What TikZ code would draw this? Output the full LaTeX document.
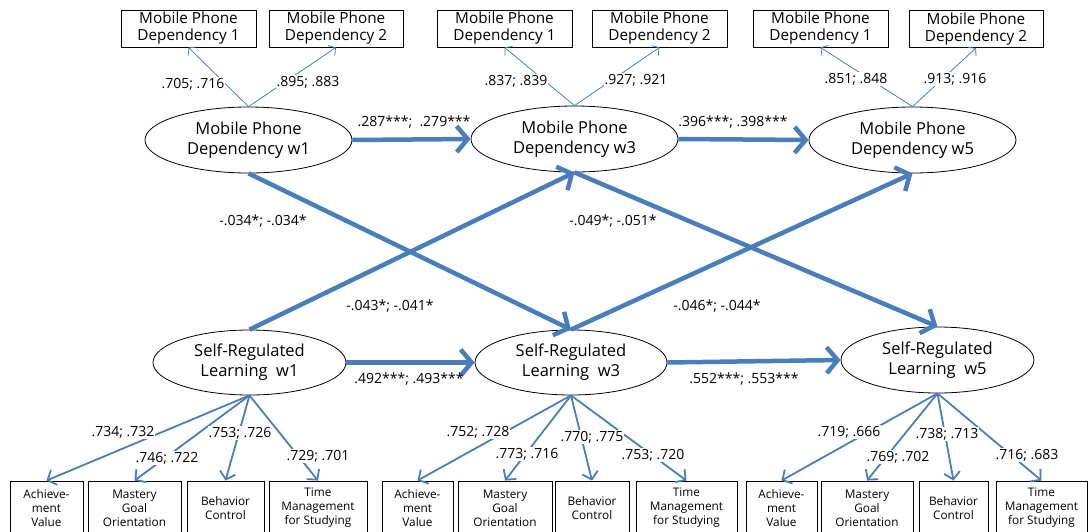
\documentclass[tikz,border=0pt]{standalone}
\usepackage{fontspec}
\setmainfont{Open Sans}
\usetikzlibrary{shapes.geometric,arrows.meta}
\definecolor{arr}{HTML}{4A7EBB}
\begin{document}
\begin{tikzpicture}[x=1pt,y=-1pt,
 lat/.style={draw,ellipse,line width=0.8pt,inner sep=0pt,align=center,font=\fontsize{16.5}{20}\selectfont},
 ind/.style={draw,rectangle,line width=0.9pt,inner sep=0pt,align=center,font=\fontsize{15.3}{17}\selectfont,minimum height=37pt},
 obs/.style={draw,rectangle,line width=0.9pt,inner sep=0pt,align=center,font=\fontsize{11.8}{14}\selectfont,minimum height=54pt},
 tarrow/.style={draw=arr,line width=4.5pt,-{Straight Barb[length=11pt,width=26pt]}},
 load/.style={draw=arr,line width=0.8pt,-{Straight Barb[length=5pt,width=12pt]}},
 oarrow/.style={draw=arr,line width=1.8pt,-{Straight Barb[length=7pt,width=16pt]}},
 coef/.style={font=\fontsize{14}{16}\selectfont,inner sep=1pt},
 wcoef/.style={coef,fill=white}
]
\useasboundingbox (0,0) rectangle (1088,531);
\clip (0,0) rectangle (1088,531);

% latent variables
\node[lat,minimum width=207pt,minimum height=66pt] (m1) at (248.5,140) {Mobile Phone\\Dependency w1};
\node[lat,minimum width=207pt,minimum height=66pt] (m3) at (574.5,139) {Mobile Phone\\Dependency w3};
\node[lat,minimum width=207pt,minimum height=66pt] (m5) at (912.5,140) {Mobile Phone\\Dependency w5};
\node[lat,minimum width=193pt,minimum height=65pt] (s1) at (249.5,362.5) {Self-Regulated\\Learning\ \ w1};
\node[lat,minimum width=192pt,minimum height=65pt] (s3) at (571,362.5) {Self-Regulated\\Learning\ \ w3};
\node[lat,minimum width=193pt,minimum height=66pt] (s5) at (937.5,360) {Self-Regulated\\Learning\ \ w5};

% top indicators
\node[ind,minimum width=135pt] (a1) at (188.5,28.5) {Mobile Phone\\Dependency 1};
\node[ind,minimum width=134pt] (b1) at (336,28.5) {Mobile Phone\\Dependency 2};
\node[ind,minimum width=135pt] (a3) at (504.5,28.5) {Mobile Phone\\Dependency 1};
\node[ind,minimum width=135pt] (b3) at (659.5,28.5) {Mobile Phone\\Dependency 2};
\node[ind,minimum width=135pt] (a5) at (820.5,28.5) {Mobile Phone\\Dependency 1};
\node[ind,minimum width=134pt] (b5) at (976,29) {Mobile Phone\\Dependency 2};

% bottom indicators
\node[obs,minimum width=73pt] (p1) at (46.5,508) {Achieve-\\ment\\Value};
\node[obs,minimum width=93pt] (q1) at (134.5,508) {Mastery\\Goal\\Orientation};
\node[obs,minimum width=77pt] (r1) at (225.5,508) {Behavior\\Control};
\node[obs,minimum width=98pt] (t1) at (318,508) {Time\\Management\\for Studying};
\node[obs,minimum width=71pt] (p3) at (417.5,508) {Achieve-\\ment\\Value};
\node[obs,minimum width=94pt] (q3) at (505,508) {Mastery\\Goal\\Orientation};
\node[obs,minimum width=74pt] (r3) at (592,508) {Behavior\\Control};
\node[obs,minimum width=101pt] (t3) at (686.5,508) {Time\\Management\\for Studying};
\node[obs,minimum width=71pt] (p5) at (781.5,508) {Achieve-\\ment\\Value};
\node[obs,minimum width=92pt] (q5) at (867,508) {Mastery\\Goal\\Orientation};
\node[obs,minimum width=69pt] (r5) at (953.5,508) {Behavior\\Control};
\node[obs,minimum width=91pt] (t5) at (1041.5,508) {Time\\Management\\for Studying};

% loadings (top)
\draw[load] (m1.north) -- (a1.south);
\draw[load] (m1.north) -- (b1.south);
\draw[load] (m3.north) -- (a3.south);
\draw[load] (m3.north) -- (b3.south);
\draw[load] (m5.north) -- (a5.south);
\draw[load] (m5.north) -- (b5.south);

% loadings (bottom)
\foreach \s in {1,3,5}{
  \draw[oarrow] (s\s.south) -- (p\s.north);
  \draw[oarrow] (s\s.south) -- (q\s.north);
  \draw[oarrow] (s\s.south) -- (r\s.north);
  \draw[oarrow] (s\s.south) -- (t\s.north);
}

% structural paths
\draw[tarrow] (m1.east) -- (m3.west);
\draw[tarrow] (m3.east) -- (m5.west);
\draw[tarrow] (s1.east) -- (s3.west);
\draw[tarrow] (s3.east) -- (s5.west);
\draw[tarrow] (m1.south) -- (s3.north);
\draw[tarrow] (s1.north) -- (m3.south);
\draw[tarrow] (m3.south) -- (s5.north);
\draw[tarrow] (s3.north) -- (m5.south);

% structural coefficients
\node[coef] (c1) at (414,122) {.287***;\ \ .279***};
\node[coef] (c2) at (733,122) {.396***; .398***};
\node[coef] (c3) at (263,221) {-.034*; -.034*};
\node[coef] (c4) at (613,221) {-.049*; -.051*};
\node[coef] (c5) at (390,306) {-.043*; -.041*};
\node[coef] (c6) at (717,306) {-.046*; -.044*};
\node[coef] (c7) at (409,379) {.492***; .493***};
\node[coef] (c8) at (744,379) {.552***; .553***};

% top loading labels
\node[wcoef] (l1) at (193,84) {.705; .716};
\node[wcoef] (l2) at (308,82) {.895; .883};
\node[wcoef] (l3) at (516,81) {.837; .839};
\node[wcoef] (l4) at (636,80) {.927; .921};
\node[wcoef] (l5) at (856,79) {.851; .848};
\node[wcoef] (l6) at (955,79) {.913; .916};

% bottom loading labels
\node[wcoef] (g1) at (123,432) {.734; .732};
\node[wcoef] (g2) at (167,458) {.746; .722};
\node[wcoef] (g3) at (240,433) {.753; .726};
\node[wcoef] (g4) at (318,456) {.729; .701};
\node[wcoef] (h1) at (478,432) {.752; .728};
\node[wcoef] (h2) at (527,454) {.773; .716};
\node[wcoef] (h3) at (592,437) {.770; .775};
\node[wcoef] (h4) at (653,455) {.753; .720};
\node[wcoef] (k1) at (849,432) {.719; .666};
\node[wcoef] (k2) at (898,457) {.769; .702};
\node[wcoef] (k3) at (947,434) {.738; .713};
\node[wcoef] (k4) at (1027,455) {.716; .683};
\end{tikzpicture}
\end{document}
